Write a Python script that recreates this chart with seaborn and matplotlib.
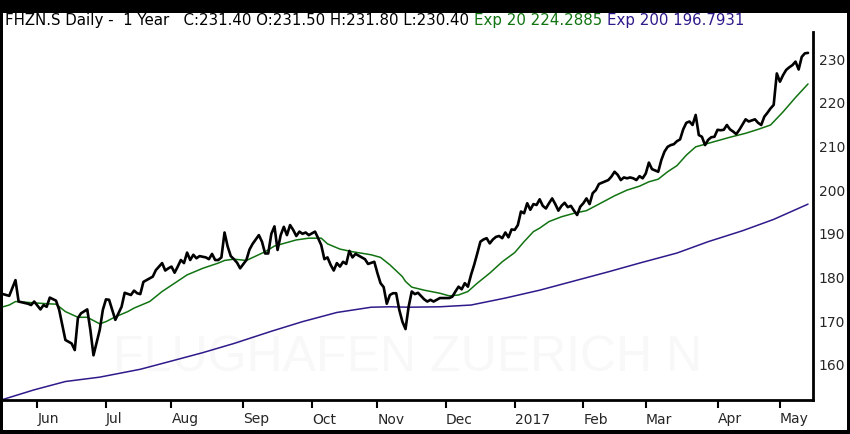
import seaborn as sns
import matplotlib
matplotlib.use("Agg")
import matplotlib.pyplot as plt
import matplotlib.patches as mpatches
import pandas as pd

# Serien (x = Handelstag seit 17.05.2016)
close_day = [0, 2, 4, 5, 8, 9, 10, 12, 13, 14, 15, 17, 18, 20, 22, 23, 24, 25, 27, 28,
             29, 31, 32, 33, 34, 36, 38, 39, 41, 42, 43, 44, 45, 47, 48, 49, 50, 51, 52, 53,
             54, 55, 56, 57, 58, 59, 60, 61, 62, 63, 65, 66, 67, 68, 69, 70, 71, 72, 73, 74,
             75, 76, 78, 79, 80, 82, 83, 84, 85, 86, 87, 88, 89, 90, 91, 92, 93, 94, 95, 96,
             97, 98, 99, 100, 101, 102, 103, 104, 105, 106, 107, 108, 109, 110, 111, 112, 113, 115, 116, 117,
             119, 120, 121, 122, 123, 124, 125, 126, 127, 128, 129, 130, 131, 132, 133, 135, 136, 137, 138, 140,
             142, 143, 144, 145, 146, 147, 148, 149, 150, 151, 152, 153, 154, 155, 156, 157, 158, 159, 160, 161,
             162, 163, 164, 165, 166, 167, 168, 169, 170, 171, 172, 173, 174, 175, 176, 177, 178, 179, 180, 181,
             182, 183, 184, 185, 186, 187, 188, 189, 190, 191, 192, 194, 195, 196, 197, 198, 199, 200, 201, 202,
             203, 204, 205, 206, 207, 208, 209, 210, 211, 212, 213, 214, 215, 216, 217, 218, 219, 220, 221, 222,
             223, 224, 225, 226, 227, 228, 229, 230, 231, 232, 233, 234, 235, 236, 238, 239, 241, 242, 243, 244,
             245, 246, 247, 248, 249, 250, 251, 252, 253, 254, 255, 256, 257, 258]
close_val = [176.2, 175.8, 179.4, 174.5, 174.0, 173.7, 174.5, 172.7, 173.7, 173.3, 175.4, 174.7, 172.6, 165.7, 164.9, 163.4, 170.7, 171.8, 172.7, 168.0,
             162.2, 168.0, 172.6, 175.0, 174.9, 170.3, 173.3, 176.5, 176.0, 177.0, 176.4, 176.2, 179.0, 179.8, 180.2, 181.7, 182.5, 183.3, 181.6, 182.1,
             182.5, 181.1, 182.5, 184.0, 183.3, 185.7, 184.0, 185.2, 184.4, 184.9, 184.6, 184.2, 185.4, 184.0, 184.0, 184.6, 190.3, 187.1, 184.9, 184.2,
             183.4, 182.1, 184.0, 186.4, 187.7, 189.7, 188.2, 185.5, 185.5, 190.0, 191.7, 186.3, 189.7, 191.6, 189.7, 192.0, 190.9, 189.5, 190.5, 190.0,
             190.3, 189.7, 190.1, 190.5, 189.0, 187.4, 184.2, 184.6, 182.9, 181.6, 183.3, 182.5, 183.6, 183.1, 186.1, 184.6, 185.4, 184.6, 184.2, 183.1,
             183.6, 181.0, 178.7, 177.8, 174.0, 176.0, 176.4, 176.4, 172.6, 169.9, 168.2, 173.3, 176.8, 176.2, 176.5, 175.0, 174.5, 174.9, 174.5, 175.3,
             175.3, 175.3, 175.6, 176.8, 177.9, 177.3, 178.7, 177.9, 180.6, 182.9, 185.5, 188.2, 188.7, 189.0, 187.8, 188.7, 189.3, 189.5, 189.0, 190.3,
             189.2, 191.0, 190.9, 192.0, 195.1, 194.7, 197.0, 195.5, 196.8, 196.6, 197.9, 196.4, 195.8, 197.0, 198.1, 196.8, 195.3, 196.4, 197.1, 196.1,
             196.4, 195.3, 194.3, 196.2, 197.0, 198.1, 196.8, 199.3, 200.0, 201.4, 201.7, 202.3, 203.1, 204.2, 203.5, 202.3, 202.9, 202.7, 202.9, 202.7,
             202.3, 203.2, 202.7, 203.8, 206.3, 204.8, 204.5, 204.2, 206.9, 208.8, 209.9, 210.3, 210.5, 211.2, 211.6, 213.9, 215.4, 215.7, 214.9, 217.2,
             212.6, 212.2, 210.3, 211.5, 212.1, 212.2, 213.8, 213.7, 213.8, 214.9, 213.9, 213.4, 212.8, 213.8, 216.2, 215.7, 216.2, 215.4, 214.9, 216.8,
             217.7, 218.7, 219.5, 226.7, 224.8, 226.3, 227.5, 228.1, 228.6, 229.4, 227.6, 230.5, 231.3, 231.4]

ema20_day = [0, 2, 4, 10, 14, 17, 20, 24, 27, 31, 33, 36, 40, 42, 47, 51, 55, 59, 64, 69,
             71, 74, 78, 81, 84, 87, 90, 94, 98, 102, 104, 108, 112, 118, 121, 124, 128, 129, 131, 135,
             140, 143, 146, 149, 152, 156, 160, 164, 167, 170, 172, 175, 179, 183, 187, 191, 196, 200, 204, 207,
             210, 213, 216, 219, 222, 225, 229, 233, 238, 242, 246, 250, 254, 258]
ema20_val = [173.3, 173.7, 174.5, 174.2, 174.0, 173.9, 172.2, 170.9, 170.9, 169.4, 169.9, 171.0, 172.2, 173.0, 174.5, 176.8, 178.7, 180.6, 182.1, 183.3,
             183.9, 184.2, 183.9, 184.9, 185.9, 187.2, 187.8, 188.6, 189.0, 189.0, 187.7, 186.5, 185.9, 185.2, 184.6, 182.9, 180.2, 179.1, 177.8, 177.1,
             176.4, 175.8, 176.0, 176.8, 178.7, 181.0, 183.6, 185.7, 188.2, 190.5, 191.3, 192.8, 193.9, 194.7, 195.3, 196.8, 198.7, 200.0, 200.9, 201.9,
             202.5, 204.2, 205.6, 208.0, 209.9, 210.5, 211.3, 212.1, 213.0, 213.9, 214.9, 217.9, 221.2, 224.29]

ema200_day = [0, 10, 20, 31, 44, 53, 64, 74, 86, 96, 107, 118, 124, 130, 140, 150, 161, 172, 183, 194,
              204, 216, 226, 237, 247, 258]
ema200_val = [152.1, 154.3, 156.2, 157.2, 159.0, 160.7, 162.8, 164.9, 167.7, 169.9, 172.0, 173.2, 173.3, 173.2, 173.3, 173.7, 175.3, 177.1, 179.2, 181.3,
              183.3, 185.6, 188.2, 190.7, 193.3, 196.79]

month_labels = ['Jun', 'Jul', 'Aug', 'Sep', 'Oct', 'Nov', 'Dec', '2017', 'Feb', 'Mar', 'Apr', 'May']
month_starts = pd.date_range('2016-06-01', '2017-05-01', freq='MS')
y_ticks = [160, 170, 180, 190, 200, 210, 220, 230]

green = '#117311'
indigo = '#30198a'

sns.set_style('white')
plt.rcParams['font.family'] = ['DejaVu Sans']

fig = plt.figure(figsize=(8.5, 4.34), dpi=100, facecolor='black')
fig.patches.append(mpatches.Rectangle((3 / 850, 4 / 434), 844 / 850, 417 / 434,
                                      transform=fig.transFigure, facecolor='white',
                                      edgecolor='none', zorder=-5))
ax = fig.add_axes([3 / 850, 34 / 434, 810 / 850, 368 / 434])
ax.set_zorder(2)
ax.set_facecolor('white')

# Wasserzeichen, sehr blass
ax.text(0.5, 0.115, 'FLUGHAFEN ZUERICH N', transform=ax.transAxes, ha='center', va='center',
        fontsize=36, color='#f8f8f8', family='Liberation Sans', zorder=0)

sns.lineplot(x=ema200_day, y=ema200_val, ax=ax, color=indigo, linewidth=1.1, estimator=None, sort=False)
sns.lineplot(x=ema20_day, y=ema20_val, ax=ax, color=green, linewidth=1.1, estimator=None, sort=False)
sns.lineplot(x=close_day, y=close_val, ax=ax, color='black', linewidth=1.9, estimator=None, sort=False)

# Handelstage -> Monatsanfang
days = pd.bdate_range('2016-05-17', periods=262)
tick_pos = [int((days < m).sum()) for m in month_starts]

ax.set_xlim(0, 259.6)
ax.set_ylim(151.97, 236.18)
ax.set_xticks(tick_pos)
ax.set_xticklabels(month_labels, ha='left', fontsize=10)
ax.set_yticks(y_ticks)
ax.set_yticklabels([str(v) for v in y_ticks], fontsize=10)
ax.yaxis.tick_right()
ax.tick_params(axis='y', length=0, pad=4)
ax.tick_params(axis='x', bottom=True, length=6, width=1.5, direction='out', pad=3, color='black')
ax.set_xlabel('')
ax.set_ylabel('')
for s in ['top', 'left']:
    ax.spines[s].set_visible(False)
for s in ['bottom', 'right']:
    ax.spines[s].set_color('black')
    ax.spines[s].set_linewidth(2)

# Kopfzeile in drei Farben
parts = [('FHZN.S Daily -  1 Year   C:231.40 O:231.50 H:231.80 L:230.40 ', 'black'),
         ('Exp 20 224.2885 ', green),
         ('Exp 200 196.7931', indigo)]
renderer = fig.canvas.get_renderer()
x_px = 5
for txt, col in parts:
    t = fig.text(x_px / 850, 1 - 21 / 434, txt, color=col, fontsize=10.8, va='center', ha='left')
    x_px = t.get_window_extent(renderer).x1

fig.savefig('out.png', dpi=100, facecolor='black')
